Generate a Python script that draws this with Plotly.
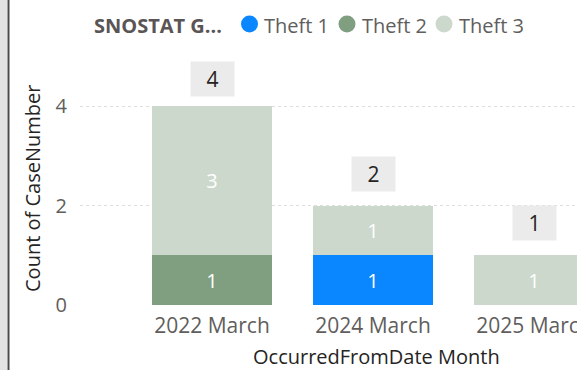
import plotly.graph_objects as go

# Data
months = ["2022 March", "2024 March", "2025 March"]
series_names = ["Theft 1", "Theft 2", "Theft 3"]
theft1 = [0, 1, 0]
theft2 = [1, 0, 0]
theft3 = [3, 1, 1]
totals = [4, 2, 1]
y_ticks = [0, 2, 4]

colors = ["#0A87FF", "#7F9F80", "#CDD8CD"]
legend_title = "SNOSTAT G..."
x_title = "OccurredFromDate Month"
y_title = "Count of CaseNumber"

FONT = "Segoe UI, Open Sans, Noto Sans, sans-serif"
W_FIG, H_FIG = 577, 370
L, T, R, B = 80, 60, 0, 65
PW, PH = W_FIG - L - R, H_FIG - T - B


def px_x(px):
    return (px - L) / PW


def px_y(py):
    return (T + PH - py) / PH


fig = go.Figure()
for name, vals, col in zip(series_names, [theft1, theft2, theft3], colors):
    fig.add_trace(go.Bar(
        x=months, y=vals, name=name, marker=dict(color=col, line=dict(width=0)),
        text=[str(v) if v else "" for v in vals],
        textposition="inside", insidetextanchor="middle",
        textfont=dict(family=FONT, size=20, color="white"),
        constraintext="none", showlegend=False,
        hoverinfo="x+y+name",
    ))

y_max = 4.925
px_per_unit = PH / y_max

annotations = []
# Totals in grey boxes above each stack
for m, t in zip(months, totals):
    bar_top = T + PH - t * px_per_unit
    shift = min(32, bar_top - (T + 19))
    annotations.append(dict(
        x=m, y=t, xref="x", yref="y", text=str(t), showarrow=False,
        yshift=shift, font=dict(family=FONT, size=21, color="#252423"),
        bgcolor="#EBEBEB", width=35, height=26, borderpad=4,
    ))

# Axis titles
annotations.append(dict(
    x=px_x(376), y=px_y(357), xref="paper", yref="paper", text=x_title,
    showarrow=False, font=dict(family=FONT, size=20, color="#252423"),
    xanchor="center", yanchor="middle",
))
annotations.append(dict(
    x=px_x(32), y=px_y(189), xref="paper", yref="paper", text=y_title,
    showarrow=False, textangle=-90, font=dict(family=FONT, size=20, color="#252423"),
    xanchor="center", yanchor="middle",
))

# Legend built from title, circles and labels
annotations.append(dict(
    x=px_x(92), y=px_y(25), xref="paper", yref="paper",
    text="<b>" + legend_title + "</b>", showarrow=False,
    font=dict(family=FONT, size=20, color="#5A5555"),
    xanchor="left", yanchor="middle",
))
shapes = []
legend_x = [249.5, 347, 444]
for cx, name, col in zip(legend_x, series_names, colors):
    r = 8.5
    shapes.append(dict(
        type="circle", xref="paper", yref="paper",
        x0=px_x(cx - r), x1=px_x(cx + r), y0=px_y(24 + r), y1=px_y(24 - r),
        fillcolor=col, line=dict(width=0),
    ))
    annotations.append(dict(
        x=px_x(cx + r + 4), y=px_y(25), xref="paper", yref="paper",
        text=name, showarrow=False,
        font=dict(family=FONT, size=20, color="#605E5C"),
        xanchor="left", yanchor="middle",
    ))

# Left frame edge
shapes.append(dict(type="rect", xref="paper", yref="paper",
                   x0=px_x(0), x1=px_x(7), y0=px_y(H_FIG), y1=px_y(0),
                   fillcolor="#E3E3E3", line=dict(width=0), layer="below"))
shapes.append(dict(type="line", xref="paper", yref="paper",
                   x0=px_x(8.5), x1=px_x(8.5), y0=px_y(H_FIG), y1=px_y(0),
                   line=dict(color="#4A4A4A", width=2)))

fig.update_layout(
    width=W_FIG, height=H_FIG,
    margin=dict(l=L, r=R, t=T, b=B, pad=0, autoexpand=False),
    barmode="stack", bargap=0.25,
    paper_bgcolor="white", plot_bgcolor="white",
    showlegend=False,
    annotations=annotations, shapes=shapes,
    xaxis=dict(
        type="category", range=[-0.82, 2.267], showgrid=False, zeroline=False,
        showline=False, ticks="", automargin=False,
        tickfont=dict(family=FONT, size=21, color="#605E5C"),
        ticklabelstandoff=6,
    ),
    yaxis=dict(
        range=[0, y_max], tickvals=y_ticks, showgrid=True, gridcolor="#DDDDDD",
        griddash="dot", gridwidth=1, zeroline=False, showline=False, ticks="",
        automargin=False,
        tickfont=dict(family=FONT, size=20, color="#605E5C"), ticklabelstandoff=12,
    ),
)

fig.write_html("out.html")
